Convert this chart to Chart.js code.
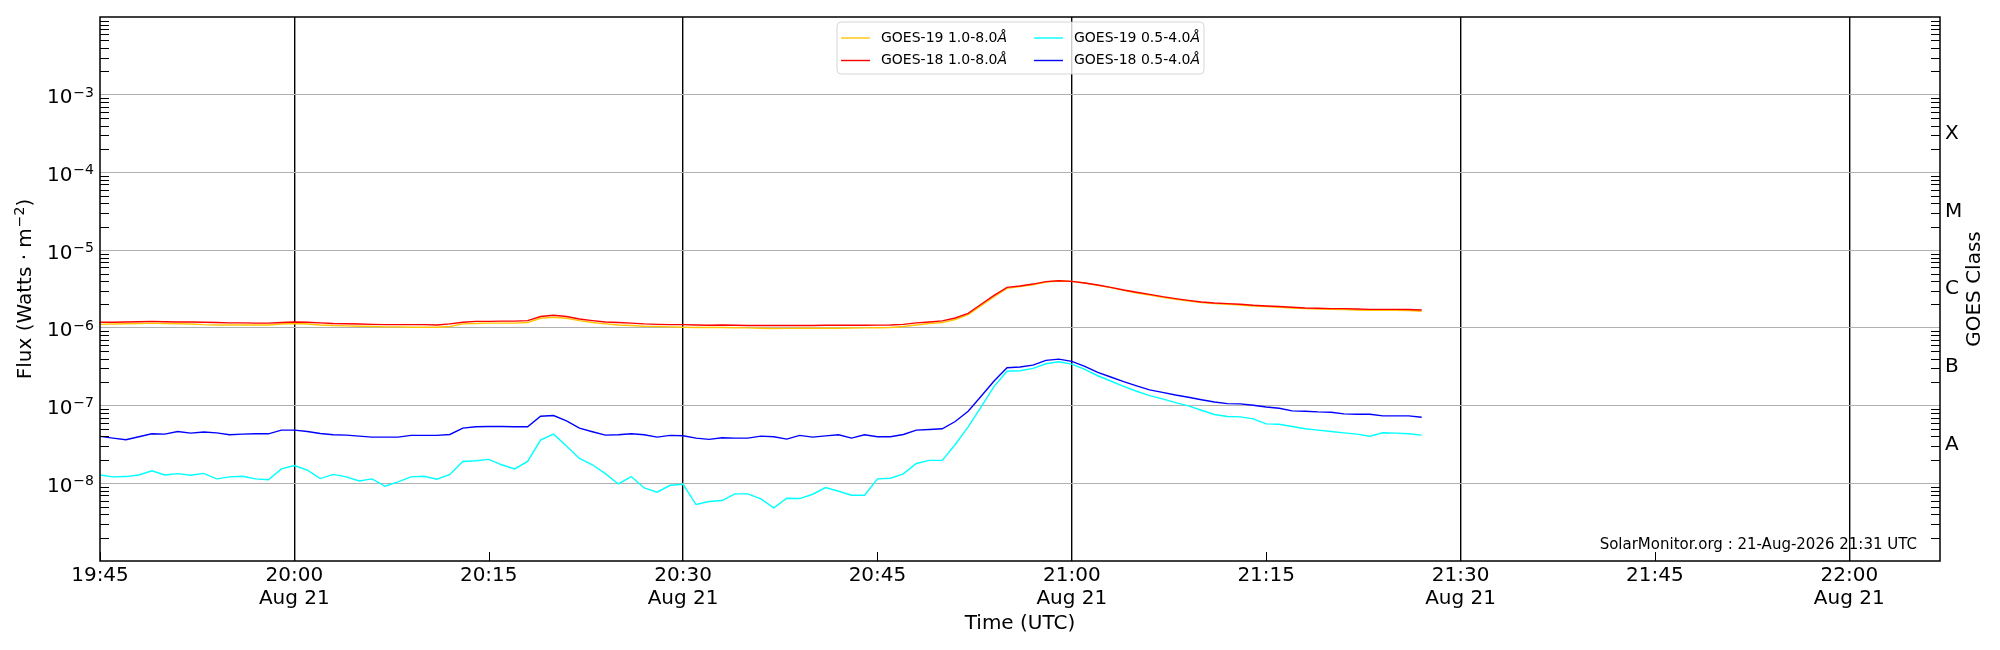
<!DOCTYPE html>
<html>
<head>
<meta charset="utf-8">
<title>GOES X-ray Flux</title>
<script src="https://cdn.jsdelivr.net/npm/chart.js@4.4.1/dist/chart.umd.min.js"></script>
<style>
  html, body { margin: 0; padding: 0; background: #fff; }
  #goesChart { display: block; }
</style>
</head>
<body>
<canvas id="goesChart" width="2000" height="650"></canvas>
<script>
// Dados das curvas GOES: um ponto por minuto a partir de 19:45 UTC
const startTime = '19:45';
const xAxisStart = '19:45';
const xAxisEnd = '22:07';
const xTickLabels = ['19:45', '20:00', '20:15', '20:30', '20:45', '21:00', '21:15', '21:30', '21:45', '22:00'];
const dateLabel = 'Aug 21';

const yTickValues = [1e-8, 1e-7, 1e-6, 1e-5, 1e-4, 1e-3];
const yTickBase = '10';
const yTickExponents = ['−8', '−7', '−6', '−5', '−4', '−3'];
const goesClasses = ['A', 'B', 'C', 'M', 'X'];
const goesClassValues = [3.16e-8, 3.16e-7, 3.16e-6, 3.16e-5, 3.16e-4];

const seriesNames = ['GOES-19 1.0-8.0', 'GOES-18 1.0-8.0', 'GOES-19 0.5-4.0', 'GOES-18 0.5-4.0'];
const seriesColors = ['#ffc400', '#ff0000', '#00ffff', '#0000ff'];

const goes19Long = [
    1.11e-6, 1.12e-6, 1.13e-6, 1.14e-6, 1.15e-6, 1.14e-6, 1.13e-6, 1.12e-6, 1.10e-6, 1.09e-6,
    1.09e-6, 1.09e-6, 1.09e-6, 1.09e-6, 1.12e-6, 1.14e-6, 1.12e-6, 1.09e-6, 1.07e-6, 1.06e-6,
    1.05e-6, 1.04e-6, 1.03e-6, 1.03e-6, 1.02e-6, 1.02e-6, 1.02e-6,
    1.04e-6, 1.125e-6, 1.14e-6, 1.15e-6, 1.15e-6, 1.15e-6, 1.17e-6, 1.33e-6, 1.37e-6, 1.33e-6,
    1.24e-6, 1.17e-6, 1.125e-6, 1.09e-6, 1.07e-6, 1.05e-6, 1.04e-6, 1.03e-6, 1.02e-6, 1.01e-6,
    1.01e-6, 1.01e-6, 1.005e-6, 1.00e-6, 0.99e-6, 0.98e-6,
    0.985e-6, 0.99e-6, 0.99e-6, 0.99e-6, 0.99e-6, 0.995e-6, 1.00e-6, 1.005e-6, 1.01e-6, 1.04e-6,
    1.09e-6, 1.14e-6, 1.17e-6, 1.28e-6, 1.48e-6, 1.93e-6, 2.52e-6, 3.22e-6, 3.39e-6, 3.59e-6,
    3.89e-6, 4.00e-6, 3.96e-6, 3.78e-6, 3.52e-6,
    3.29e-6, 3.04e-6, 2.81e-6, 2.65e-6, 2.47e-6, 2.33e-6, 2.22e-6, 2.11e-6, 2.05e-6, 2.01e-6,
    1.97e-6, 1.91e-6, 1.88e-6, 1.84e-6, 1.80e-6, 1.77e-6, 1.75e-6, 1.73e-6, 1.72e-6, 1.70e-6,
    1.685e-6, 1.685e-6, 1.685e-6, 1.67e-6, 1.635e-6
];

const goes18Long = [
    1.18e-6, 1.18e-6, 1.19e-6, 1.20e-6, 1.21e-6, 1.20e-6, 1.19e-6, 1.19e-6, 1.18e-6, 1.17e-6,
    1.16e-6, 1.16e-6, 1.15e-6, 1.15e-6, 1.17e-6, 1.19e-6, 1.18e-6, 1.16e-6, 1.14e-6, 1.13e-6,
    1.12e-6, 1.11e-6, 1.10e-6, 1.10e-6, 1.10e-6, 1.10e-6, 1.09e-6,
    1.125e-6, 1.18e-6, 1.21e-6, 1.21e-6, 1.22e-6, 1.22e-6, 1.24e-6, 1.40e-6, 1.45e-6, 1.40e-6,
    1.30e-6, 1.24e-6, 1.19e-6, 1.17e-6, 1.15e-6, 1.125e-6, 1.11e-6, 1.10e-6, 1.10e-6, 1.09e-6,
    1.08e-6, 1.09e-6, 1.08e-6, 1.07e-6, 1.07e-6, 1.07e-6,
    1.07e-6, 1.07e-6, 1.07e-6, 1.08e-6, 1.08e-6, 1.08e-6, 1.08e-6, 1.085e-6, 1.09e-6, 1.11e-6,
    1.16e-6, 1.19e-6, 1.23e-6, 1.34e-6, 1.54e-6, 2.01e-6, 2.62e-6, 3.32e-6, 3.45e-6, 3.66e-6,
    3.93e-6, 4.04e-6, 3.96e-6, 3.78e-6, 3.56e-6,
    3.32e-6, 3.07e-6, 2.87e-6, 2.70e-6, 2.52e-6, 2.38e-6, 2.26e-6, 2.15e-6, 2.09e-6, 2.05e-6,
    2.01e-6, 1.95e-6, 1.91e-6, 1.88e-6, 1.84e-6, 1.80e-6, 1.79e-6, 1.77e-6, 1.77e-6, 1.75e-6,
    1.73e-6, 1.73e-6, 1.73e-6, 1.72e-6, 1.70e-6
];

const goes19Short = [
    1.28e-8, 1.21e-8, 1.22e-8, 1.28e-8, 1.45e-8, 1.28e-8, 1.33e-8, 1.27e-8, 1.34e-8, 1.14e-8,
    1.21e-8, 1.23e-8, 1.14e-8, 1.11e-8, 1.53e-8, 1.69e-8, 1.48e-8, 1.15e-8, 1.30e-8, 1.21e-8,
    1.07e-8, 1.14e-8, 0.915e-8, 1.04e-8, 1.21e-8, 1.23e-8, 1.13e-8,
    1.30e-8, 1.91e-8, 1.95e-8, 2.03e-8, 1.73e-8, 1.53e-8, 1.91e-8, 3.59e-8, 4.29e-8, 3.01e-8,
    2.09e-8, 1.73e-8, 1.33e-8, 0.98e-8, 1.22e-8, 0.871e-8, 0.767e-8, 0.943e-8, 0.97e-8, 0.533e-8,
    0.582e-8, 0.600e-8, 0.730e-8, 0.730e-8, 0.630e-8, 0.483e-8,
    0.642e-8, 0.636e-8, 0.723e-8, 0.880e-8, 0.789e-8, 0.702e-8, 0.702e-8, 1.14e-8, 1.16e-8, 1.32e-8,
    1.80e-8, 1.97e-8, 1.97e-8, 3.16e-8, 5.33e-8, 9.61e-8, 1.77e-7, 2.76e-7, 2.81e-7, 3.01e-7,
    3.45e-7, 3.67e-7, 3.42e-7, 2.92e-7, 2.42e-7,
    2.07e-7, 1.77e-7, 1.53e-7, 1.34e-7, 1.22e-7, 1.09e-7, 0.99e-7, 0.871e-7, 0.767e-7, 0.723e-7,
    0.716e-7, 0.675e-7, 0.582e-7, 0.576e-7, 0.538e-7, 0.503e-7, 0.483e-7, 0.464e-7, 0.446e-7, 0.429e-7,
    0.404e-7, 0.446e-7, 0.442e-7, 0.433e-7, 0.417e-7
];

const goes18Short = [
    4.01e-8, 3.81e-8, 3.63e-8, 3.97e-8, 4.33e-8, 4.29e-8, 4.64e-8, 4.42e-8, 4.56e-8, 4.46e-8,
    4.21e-8, 4.29e-8, 4.33e-8, 4.33e-8, 4.83e-8, 4.83e-8, 4.64e-8, 4.38e-8, 4.21e-8, 4.17e-8,
    4.04e-8, 3.93e-8, 3.93e-8, 3.93e-8, 4.13e-8, 4.13e-8, 4.13e-8,
    4.25e-8, 5.12e-8, 5.33e-8, 5.38e-8, 5.38e-8, 5.33e-8, 5.33e-8, 7.30e-8, 7.45e-8, 6.36e-8,
    5.12e-8, 4.60e-8, 4.17e-8, 4.21e-8, 4.33e-8, 4.21e-8, 3.93e-8, 4.13e-8, 4.09e-8, 3.81e-8,
    3.67e-8, 3.85e-8, 3.81e-8, 3.81e-8, 4.04e-8, 3.97e-8,
    3.70e-8, 4.13e-8, 3.93e-8, 4.08e-8, 4.21e-8, 3.81e-8, 4.21e-8, 3.97e-8, 3.97e-8, 4.25e-8,
    4.83e-8, 4.92e-8, 5.03e-8, 6.24e-8, 8.46e-8, 1.32e-7, 2.07e-7, 3.07e-7, 3.13e-7, 3.32e-7,
    3.81e-7, 3.96e-7, 3.70e-7, 3.19e-7, 2.675e-7,
    2.33e-7, 2.03e-7, 1.79e-7, 1.59e-7, 1.48e-7, 1.37e-7, 1.28e-7, 1.19e-7, 1.11e-7, 1.06e-7,
    1.05e-7, 1.01e-7, 0.96e-7, 0.924e-7, 0.854e-7, 0.846e-7, 0.829e-7, 0.822e-7, 0.782e-7, 0.774e-7,
    0.774e-7, 0.737e-7, 0.737e-7, 0.737e-7, 0.708e-7
];

const creditText = 'SolarMonitor.org : 21-Aug-2026 21:31 UTC';
const xTitle = 'Time (UTC)';
const yTitleParts = ['Flux (Watts · m', '−2', ')'];
const y2Title = 'GOES Class';

const fonte = '"DejaVu Sans", sans-serif';

function toMinutes(hhmm) {
    const p = hhmm.split(':');
    return Number(p[0]) * 60 + Number(p[1]);
}

const t0 = toMinutes(startTime);
const times = goes18Long.map((v, i) => t0 + i);

function toPoints(values) {
    return values.map((v, i) => ({ x: times[i], y: v }));
}

const allSeries = [goes19Long, goes18Long, goes19Short, goes18Short];
const drawOrder = [1, 0, 1, 0];

const datasets = allSeries.map((values, i) => ({
    label: seriesNames[i] + 'Å',
    data: toPoints(values),
    borderColor: seriesColors[i],
    backgroundColor: seriesColors[i],
    borderWidth: 1.4,
    pointRadius: 0,
    tension: 0,
    fill: false,
    order: drawOrder[i]
}));

// Plugin: ticks menores, moldura, rotulos 10^n, legenda e textos
const goesDecor = {
    id: 'goesDecor',
    afterDatasetsDraw(chart) {
        const { ctx, chartArea: a, scales } = chart;
        ctx.save();
        ctx.strokeStyle = '#000';
        ctx.lineWidth = 1;
        ctx.beginPath();
        for (let e = -9; e < -2; e++) {
            for (let k = 2; k <= 9; k++) {
                const y = Math.round(scales.y.getPixelForValue(k * Math.pow(10, e))) + 0.5;
                ctx.moveTo(a.left, y);
                ctx.lineTo(a.left + 9, y);
                ctx.moveTo(a.right, y);
                ctx.lineTo(a.right - 9, y);
            }
        }
        xTickLabels.forEach(function (t) {
            const m = toMinutes(t);
            if (m % 30 !== 0) {
                const x = Math.round(scales.x.getPixelForValue(m)) + 0.5;
                ctx.moveTo(x, a.bottom);
                ctx.lineTo(x, a.bottom - 9);
            }
        });
        ctx.stroke();
        ctx.restore();
    },
    afterDraw(chart) {
        const { ctx, chartArea: a, scales } = chart;
        ctx.save();

        // moldura
        ctx.strokeStyle = '#000';
        ctx.lineWidth = 1.5;
        ctx.strokeRect(a.left, a.top, a.right - a.left, a.bottom - a.top);

        // rotulos do eixo y com expoente
        ctx.fillStyle = '#000';
        ctx.textAlign = 'right';
        ctx.textBaseline = 'alphabetic';
        yTickValues.forEach(function (v, i) {
            const y = scales.y.getPixelForValue(v);
            const xr = a.left - 6;
            ctx.font = '14px ' + fonte;
            const ew = ctx.measureText(yTickExponents[i]).width;
            ctx.fillText(yTickExponents[i], xr, y + 1.8);
            ctx.font = '20px ' + fonte;
            ctx.fillText(yTickBase, xr - ew - 1, y + 8.4);
        });

        // texto do SolarMonitor
        ctx.font = '15px ' + fonte;
        ctx.textAlign = 'right';
        ctx.textBaseline = 'alphabetic';
        ctx.fillText(creditText, 1917, 549);

        // legenda
        const lx = 837, ly = 22, lw = 367, lh = 52;
        ctx.beginPath();
        ctx.roundRect(lx, ly, lw, lh, 4);
        ctx.fillStyle = 'rgba(255,255,255,0.8)';
        ctx.fill();
        ctx.strokeStyle = 'rgba(204,204,204,0.8)';
        ctx.lineWidth = 1;
        ctx.stroke();

        const colX = [841, 1034];
        const rowY = [38, 60.5];
        ctx.textAlign = 'left';
        ctx.textBaseline = 'middle';
        seriesNames.forEach(function (name, i) {
            const cx = colX[Math.floor(i / 2)];
            const cy = rowY[i % 2];
            ctx.strokeStyle = seriesColors[i];
            ctx.lineWidth = 1.4;
            ctx.beginPath();
            ctx.moveTo(cx, cy);
            ctx.lineTo(cx + 29, cy);
            ctx.stroke();
            ctx.fillStyle = '#000';
            ctx.font = '14px ' + fonte;
            ctx.fillText(name, cx + 40, cy);
            const w = ctx.measureText(name).width;
            ctx.font = 'italic 14px ' + fonte;
            ctx.fillText('Å', cx + 40 + w, cy);
        });

        // titulos dos eixos
        ctx.fillStyle = '#000';
        ctx.font = '20px ' + fonte;
        ctx.textAlign = 'center';
        ctx.textBaseline = 'middle';
        ctx.fillText(xTitle, (a.left + a.right) / 2, 624);

        // titulo y com m^-2 em sobrescrito
        ctx.save();
        ctx.translate(24, (a.top + a.bottom) / 2);
        ctx.rotate(-Math.PI / 2);
        ctx.textAlign = 'left';
        ctx.textBaseline = 'alphabetic';
        ctx.font = '20px ' + fonte;
        const w0 = ctx.measureText(yTitleParts[0]).width;
        const w2 = ctx.measureText(yTitleParts[2]).width;
        ctx.font = '14px ' + fonte;
        const w1 = ctx.measureText(yTitleParts[1]).width;
        let px = -(w0 + w1 + w2 + 1) / 2;
        ctx.font = '20px ' + fonte;
        ctx.fillText(yTitleParts[0], px, 7);
        px += w0 + 1;
        ctx.font = '14px ' + fonte;
        ctx.fillText(yTitleParts[1], px, 0);
        px += w1;
        ctx.font = '20px ' + fonte;
        ctx.fillText(yTitleParts[2], px, 7);
        ctx.restore();

        ctx.save();
        ctx.translate(1975, (a.top + a.bottom) / 2);
        ctx.rotate(-Math.PI / 2);
        ctx.fillText(y2Title, 0, 0);
        ctx.restore();

        ctx.restore();
    }
};

const ctx = document.getElementById('goesChart');

new Chart(ctx, {
    type: 'line',
    data: { datasets: datasets },
    options: {
        responsive: false,
        animation: false,
        devicePixelRatio: 1,
        layout: { padding: { top: 15, left: 0, right: 0, bottom: 0 } },
        plugins: {
            legend: { display: false },
            tooltip: { enabled: false }
        },
        scales: {
            x: {
                type: 'linear',
                min: toMinutes(xAxisStart),
                max: toMinutes(xAxisEnd),
                afterBuildTicks: function (scale) {
                    scale.ticks = xTickLabels.map(t => ({ value: toMinutes(t) }));
                },
                afterFit: function (scale) { scale.height = 89; },
                border: { display: false },
                grid: {
                    drawTicks: false,
                    color: function (c) {
                        return (c.tick && c.tick.value % 30 === 0) ? '#000' : 'rgba(0,0,0,0)';
                    },
                    lineWidth: 1.4
                },
                ticks: {
                    autoSkip: false,
                    maxRotation: 0,
                    minRotation: 0,
                    padding: 3,
                    color: '#000',
                    font: { family: fonte, size: 20, lineHeight: 1.15 },
                    callback: function (value, index) {
                        const lab = xTickLabels[index];
                        return (value % 30 === 0) ? [lab, dateLabel] : lab;
                    }
                }
            },
            y: {
                type: 'logarithmic',
                position: 'left',
                min: 1e-9,
                max: 1e-2,
                afterBuildTicks: function (scale) {
                    scale.ticks = yTickValues.map(v => ({ value: v }));
                },
                afterFit: function (scale) { scale.width = 100; },
                border: { display: false },
                grid: { drawTicks: false, color: '#b0b0b0', lineWidth: 1 },
                ticks: { display: false }
            },
            y2: {
                type: 'logarithmic',
                position: 'right',
                min: 1e-9,
                max: 1e-2,
                afterBuildTicks: function (scale) {
                    scale.ticks = goesClassValues.map(v => ({ value: v }));
                },
                afterFit: function (scale) { scale.width = 60; },
                border: { display: false },
                grid: { drawOnChartArea: false, drawTicks: false },
                ticks: {
                    padding: 5,
                    color: '#000',
                    font: { family: fonte, size: 20 },
                    callback: function (value, index) { return goesClasses[index]; }
                }
            }
        }
    },
    plugins: [goesDecor]
});
</script>
</body>
</html>
